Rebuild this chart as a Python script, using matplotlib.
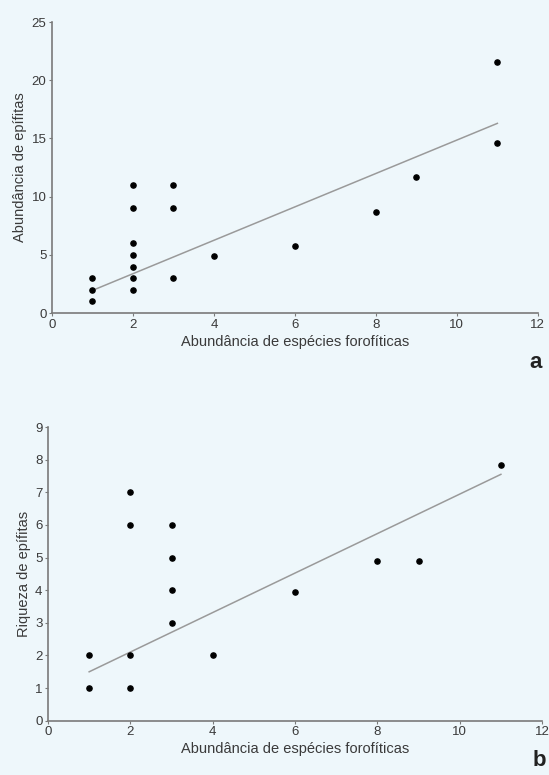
import numpy as np
import matplotlib
matplotlib.use("Agg")
import matplotlib.pyplot as plt

plt.rcParams['font.family'] = ['Liberation Sans', 'DejaVu Sans']

# panel a: abundancia de epifitas
xa = [1, 1, 1, 2, 2, 2, 2, 2, 2, 2, 3, 3, 3, 4, 6, 8, 9, 11, 11]
ya = [1, 2, 3, 2, 3, 4, 5, 6, 9, 11, 3, 9, 11, 4.9, 5.8, 8.7, 11.7, 14.6, 21.6]
fit_xa = [1, 11]
fit_ya = [1.95, 16.3]

# panel b: riqueza de epifitas
xb = [1, 1, 2, 2, 2, 2, 3, 3, 3, 3, 4, 6, 8, 9, 11]
yb = [1, 2, 1, 2, 6, 7, 3, 4, 5, 6, 2, 3.95, 4.9, 4.9, 7.85]
fit_xb = [1, 11]
fit_yb = [1.5, 7.55]

xlabel = "Abundância de espécies forofíticas"
bg = "#eef7fb"
axcol = "#7a7a7a"
txtcol = "#3a3a3a"

fig = plt.figure(figsize=(5.49, 7.75), dpi=100)
fig.patch.set_facecolor(bg)

ax1 = fig.add_axes([0.0947, 0.596, 0.885, 0.3755])
ax2 = fig.add_axes([0.0874, 0.070, 0.90, 0.379])

panels = [
    (ax1, xa, ya, fit_xa, fit_ya, "Abundância de epífitas", 25, np.arange(0, 26, 5), "a", -0.17),
    (ax2, xb, yb, fit_xb, fit_yb, "Riqueza de epífitas", 9, np.arange(0, 10, 1), "b", -0.135),
]

for ax, x, y, fx, fy, ylab, ymax, yt, letter, ly in panels:
    ax.set_facecolor(bg)
    ax.plot(fx, fy, color="#9a9a9a", lw=1.1, zorder=2)
    ax.scatter(x, y, s=14, color="black", zorder=3, clip_on=False)
    ax.set_xlim(0, 12)
    ax.set_ylim(0, ymax)
    ax.set_xticks(np.arange(0, 13, 2))
    ax.set_yticks(yt)
    for s in ["top", "right"]:
        ax.spines[s].set_visible(False)
    for s in ["left", "bottom"]:
        ax.spines[s].set_color(axcol)
        ax.spines[s].set_linewidth(1.2)
    ax.tick_params(colors=axcol, labelcolor=txtcol, labelsize=9.5, length=2, width=0.8, pad=2)
    ax.set_xlabel(xlabel, fontsize=10.5, color=txtcol, labelpad=3)
    ax.set_ylabel(ylab, fontsize=10.5, color=txtcol, labelpad=3)
    ax.text(0.995, ly, letter, transform=ax.transAxes, fontsize=16, fontweight="bold",
            color="#222222", ha="center", va="center")

fig.savefig("out.png", dpi=100, facecolor=bg)
